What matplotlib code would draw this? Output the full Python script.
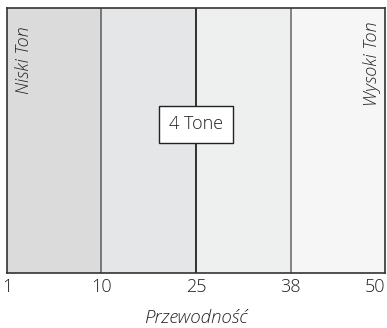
import matplotlib.pyplot as plt

tick_labels = ['1', '10', '25', '38', '50']
band_colors = ['#dbdbdc', '#e5e6e7', '#eeefef', '#f6f6f6']
divider_colors = ['#666666', '#111111', '#707070']
end_labels = ['Niski Ton', 'Wysoki Ton']
center_label = '4 Tone'

plt.rcParams['font.family'] = ['Open Sans', 'DejaVu Sans']

fig = plt.figure(figsize=(3.87, 3.28), dpi=100)
ax = fig.add_axes([0.018, 0.168, 0.977, 0.808])

pos = list(range(len(tick_labels)))
for i, c in enumerate(band_colors):
    ax.axvspan(pos[i], pos[i + 1], color=c, lw=0)
for i, c in enumerate(divider_colors):
    ax.axvline(pos[i + 1], color=c, lw=1.2)

ax.set_xlim(pos[0], pos[-1])
ax.set_ylim(0, 1)
ax.set_yticks([])
ax.set_xticks(pos)
ax.set_xticklabels(tick_labels, fontsize=13, fontweight='light', color='#222222')
ax.get_xticklabels()[-1].set_ha('right')
ax.tick_params(axis='x', length=0, pad=4)
for s in ax.spines.values():
    s.set_color('#333333')
    s.set_linewidth(1.2)

ax.text(0.18, 0.93, end_labels[0], rotation=90, style='italic', fontsize=13,
        fontweight='light', ha='center', va='top', color='#222222')
ax.text(3.86, 0.95, end_labels[1], rotation=90, style='italic', fontsize=13,
        fontweight='light', ha='center', va='top', color='#222222')
ax.text(2, 0.56, center_label, fontsize=13, fontweight='light', ha='center', va='center',
        color='#222222',
        bbox=dict(boxstyle='square,pad=0.55', fc='white', ec='#222222', lw=1))

ax.set_xlabel('Przewodność', style='italic', fontsize=13.5, fontweight='light',
              color='#222222', labelpad=9)

fig.savefig('out.png', dpi=100)
